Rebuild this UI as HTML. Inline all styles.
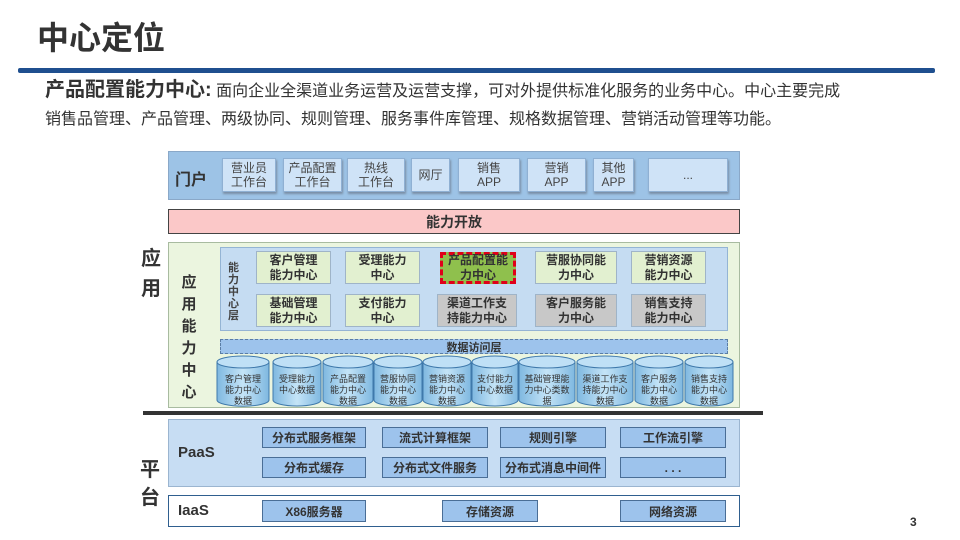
<!DOCTYPE html>
<html><head><meta charset="utf-8"><style>
*{margin:0;padding:0;box-sizing:border-box}
body{width:960px;height:540px;background:#fff;position:relative;overflow:hidden;font-family:"Liberation Sans","Noto Sans CJK SC",sans-serif;color:#333}
.a{position:absolute}
.c{display:flex;align-items:center;justify-content:center;text-align:center}
.pi{background:#cfe3f7;border:1px solid #8fb0d3;box-shadow:1px 2px 2px #7a8ea5;font-size:12px;line-height:14px;color:#444}
.g{background:#e2f0d0;border:1px solid #9fb4c8;font-size:12px;font-weight:bold;line-height:15px;color:#333}
.gr{background:#c8c8c8}
.pb{background:#9dc3ec;border:1px solid #4a6e96;font-size:12px;font-weight:bold;color:#333}
</style></head><body>
<div class="a" style="left:37px;top:18px;font-size:32px;font-weight:bold;color:#333;line-height:40px">中心定位</div>
<div class="a" style="left:18px;top:68px;width:917px;height:5px;background:#1f4f8f;border-radius:2px"></div>
<div class="a" style="left:45px;top:78px;font-size:16px;line-height:24px;white-space:nowrap"><b style="font-size:20px">产品配置能力中心:</b> 面向企业全渠道业务运营及运营支撑，可对外提供标准化服务的业务中心。中心主要完成</div>
<div class="a" style="left:45px;top:108px;font-size:16px;line-height:24px;white-space:nowrap">销售品管理、产品管理、两级协同、规则管理、服务事件库管理、规格数据管理、营销活动管理等功能。</div>

<div class="a" style="left:168px;top:151px;width:572px;height:49px;background:#9dc3e6;border:1px solid #8aa8c8"></div>
<div class="a" style="left:175px;top:166px;font-size:16px;font-weight:bold;color:#333">门户</div>
<div class="a c pi" style="left:222px;top:158px;width:54px;height:34px">营业员<br>工作台</div>
<div class="a c pi" style="left:283px;top:158px;width:59px;height:34px">产品配置<br>工作台</div>
<div class="a c pi" style="left:347px;top:158px;width:58px;height:34px">热线<br>工作台</div>
<div class="a c pi" style="left:411px;top:158px;width:39px;height:34px">网厅</div>
<div class="a c pi" style="left:458px;top:158px;width:62px;height:34px">销售<br>APP</div>
<div class="a c pi" style="left:527px;top:158px;width:59px;height:34px">营销<br>APP</div>
<div class="a c pi" style="left:593px;top:158px;width:41px;height:34px">其他<br>APP</div>
<div class="a c pi" style="left:648px;top:158px;width:80px;height:34px">...</div>

<div class="a c" style="left:168px;top:209px;width:572px;height:25px;background:#fbc8c8;border:1px solid #444;font-size:14px;font-weight:bold">能力开放</div>

<div class="a" style="left:141px;top:244px;font-size:20px;font-weight:bold;line-height:30px;width:22px">应<br>用</div>
<div class="a" style="left:168px;top:242px;width:572px;height:166px;background:#ebf5df;border:1px solid #a8bba0"></div>
<div class="a" style="left:180px;top:272px;width:18px;font-size:15px;font-weight:bold;line-height:22px;text-align:center">应用能力中心</div>
<div class="a" style="left:220px;top:247px;width:508px;height:84px;background:#c5dcf2;border:1px solid #94b4d4"></div>
<div class="a" style="left:228px;top:262px;width:13px;font-size:11px;font-weight:bold;line-height:12px;color:#444">能力中心层</div>
<div class="a c g" style="left:256px;top:251px;width:75px;height:33px">客户管理<br>能力中心</div>
<div class="a c g" style="left:345px;top:251px;width:75px;height:33px">受理能力<br>中心</div>
<div class="a c g" style="left:440px;top:252px;width:76px;height:32px;background:#8fc04d;border:3px dashed #e0001a">产品配置能<br>力中心</div>
<div class="a c g" style="left:535px;top:251px;width:82px;height:33px">营服协同能<br>力中心</div>
<div class="a c g" style="left:631px;top:251px;width:75px;height:33px">营销资源<br>能力中心</div>
<div class="a c g" style="left:256px;top:294px;width:75px;height:33px">基础管理<br>能力中心</div>
<div class="a c g" style="left:345px;top:294px;width:75px;height:33px">支付能力<br>中心</div>
<div class="a c g gr" style="left:437px;top:294px;width:80px;height:33px">渠道工作支<br>持能力中心</div>
<div class="a c g gr" style="left:535px;top:294px;width:82px;height:33px">客户服务能<br>力中心</div>
<div class="a c g gr" style="left:631px;top:294px;width:75px;height:33px">销售支持<br>能力中心</div>
<div class="a c" style="left:220px;top:339px;width:508px;height:15px;background:#9dc3ec;border:1px dashed #5a7da5;font-size:11px;font-weight:bold">数据访问层</div>

<svg class="a" style="left:0;top:0" width="960" height="540">
<defs><linearGradient id="cg" x1="0" x2="1"><stop offset="0" stop-color="#7fb8e0"/><stop offset=".5" stop-color="#c4e4f7"/><stop offset="1" stop-color="#7fb8e0"/></linearGradient></defs>
<g stroke="#3f79ab" stroke-width="1">
<path d="M217,362 v38 a25,6 0 0 0 52,0 v-38" fill="url(#cg)"/><ellipse cx="243" cy="362" rx="26" ry="6" fill="#bfe0f6"/>
<path d="M273,362 v38 a24,6 0 0 0 48,0 v-38" fill="url(#cg)"/><ellipse cx="297" cy="362" rx="24" ry="6" fill="#bfe0f6"/>
<path d="M323,362 v38 a25,6 0 0 0 50,0 v-38" fill="url(#cg)"/><ellipse cx="348" cy="362" rx="25" ry="6" fill="#bfe0f6"/>
<path d="M374,362 v38 a24,6 0 0 0 48,0 v-38" fill="url(#cg)"/><ellipse cx="398" cy="362" rx="24" ry="6" fill="#bfe0f6"/>
<path d="M423,362 v38 a24,6 0 0 0 48,0 v-38" fill="url(#cg)"/><ellipse cx="447" cy="362" rx="24" ry="6" fill="#bfe0f6"/>
<path d="M472,362 v38 a23,6 0 0 0 46,0 v-38" fill="url(#cg)"/><ellipse cx="495" cy="362" rx="23" ry="6" fill="#bfe0f6"/>
<path d="M519,362 v38 a28,6 0 0 0 56,0 v-38" fill="url(#cg)"/><ellipse cx="547" cy="362" rx="28" ry="6" fill="#bfe0f6"/>
<path d="M577,362 v38 a28,6 0 0 0 56,0 v-38" fill="url(#cg)"/><ellipse cx="605" cy="362" rx="28" ry="6" fill="#bfe0f6"/>
<path d="M635,362 v38 a24,6 0 0 0 48,0 v-38" fill="url(#cg)"/><ellipse cx="659" cy="362" rx="24" ry="6" fill="#bfe0f6"/>
<path d="M685,362 v38 a24,6 0 0 0 48,0 v-38" fill="url(#cg)"/><ellipse cx="709" cy="362" rx="24" ry="6" fill="#bfe0f6"/>
</g>
<g font-family="Liberation Sans,Noto Sans CJK SC,sans-serif" font-size="9" fill="#333" text-anchor="middle">
<text x="243" y="382">客户管理</text><text x="243" y="393">能力中心</text><text x="243" y="404">数据</text>
<text x="297" y="382">受理能力</text><text x="297" y="393">中心数据</text>
<text x="348" y="382">产品配置</text><text x="348" y="393">能力中心</text><text x="348" y="404">数据</text>
<text x="398" y="382">营服协同</text><text x="398" y="393">能力中心</text><text x="398" y="404">数据</text>
<text x="447" y="382">营销资源</text><text x="447" y="393">能力中心</text><text x="447" y="404">数据</text>
<text x="495" y="382">支付能力</text><text x="495" y="393">中心数据</text>
<text x="547" y="382">基础管理能</text><text x="547" y="393">力中心类数</text><text x="547" y="404">据</text>
<text x="605" y="382">渠道工作支</text><text x="605" y="393">持能力中心</text><text x="605" y="404">数据</text>
<text x="659" y="382">客户服务</text><text x="659" y="393">能力中心</text><text x="659" y="404">数据</text>
<text x="709" y="382">销售支持</text><text x="709" y="393">能力中心</text><text x="709" y="404">数据</text>
</g>
</svg>

<div class="a" style="left:143px;top:411px;width:620px;height:4px;background:#333"></div>

<div class="a" style="left:140px;top:456px;font-size:20px;font-weight:bold;line-height:28px;width:22px">平<br>台</div>
<div class="a" style="left:168px;top:419px;width:572px;height:68px;background:#c7ddf3;border:1px solid #9bb5d0"></div>
<div class="a" style="left:178px;top:444px;font-size:15px;font-weight:bold">PaaS</div>
<div class="a c pb" style="left:262px;top:427px;width:104px;height:21px">分布式服务框架</div>
<div class="a c pb" style="left:382px;top:427px;width:106px;height:21px">流式计算框架</div>
<div class="a c pb" style="left:500px;top:427px;width:106px;height:21px">规则引擎</div>
<div class="a c pb" style="left:620px;top:427px;width:106px;height:21px">工作流引擎</div>
<div class="a c pb" style="left:262px;top:457px;width:104px;height:21px">分布式缓存</div>
<div class="a c pb" style="left:382px;top:457px;width:106px;height:21px">分布式文件服务</div>
<div class="a c pb" style="left:500px;top:457px;width:106px;height:21px">分布式消息中间件</div>
<div class="a c pb" style="left:620px;top:457px;width:106px;height:21px">. . .</div>
<div class="a" style="left:168px;top:495px;width:572px;height:32px;background:#fff;border:1px solid #2f5f8f"></div>
<div class="a" style="left:178px;top:502px;font-size:15px;font-weight:bold">IaaS</div>
<div class="a c pb" style="left:262px;top:500px;width:104px;height:22px">X86服务器</div>
<div class="a c pb" style="left:442px;top:500px;width:96px;height:22px">存储资源</div>
<div class="a c pb" style="left:620px;top:500px;width:106px;height:22px">网络资源</div>

<div class="a" style="left:910px;top:515px;font-size:12px;font-weight:bold">3</div>
</body></html>
